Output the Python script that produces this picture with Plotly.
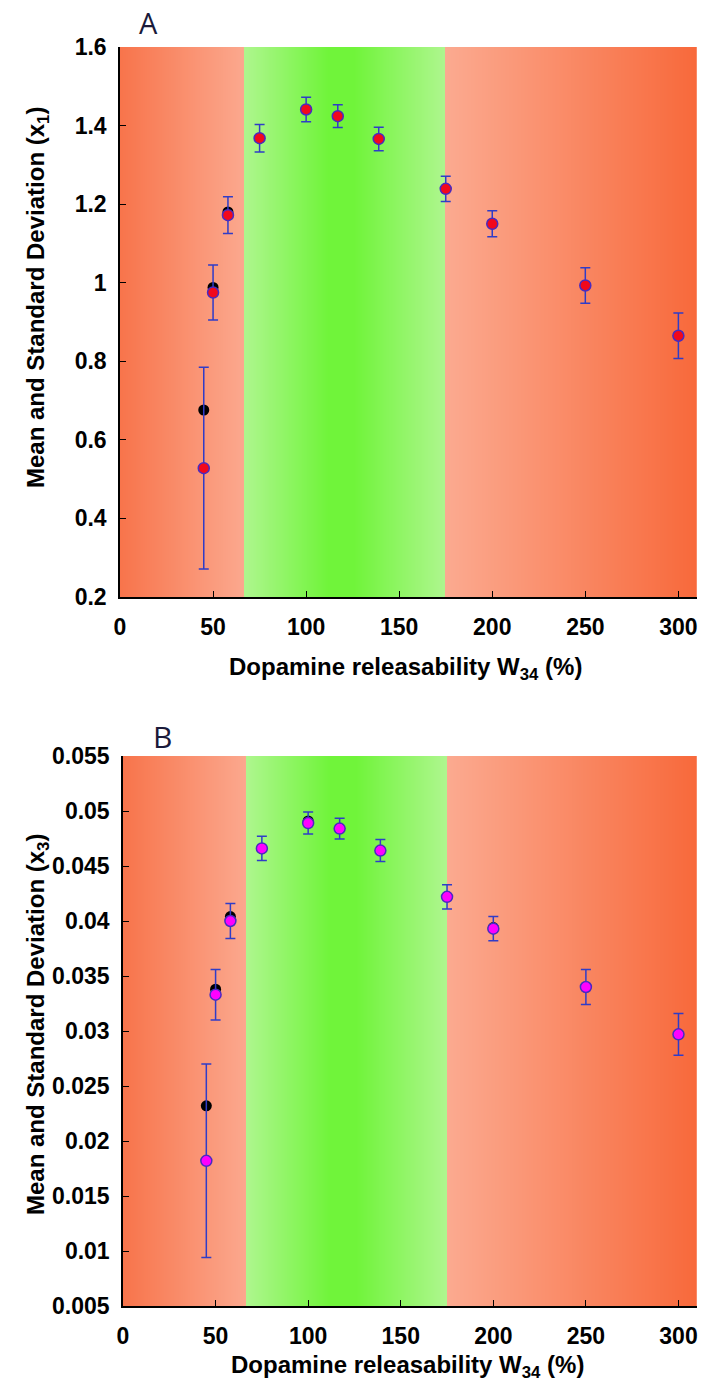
import numpy as np
import plotly.graph_objects as go

# releasability W34 (%)
w34 = [45, 50, 58, 75, 100, 117, 139, 175, 200, 250, 300]

# panel A: x1
x1_mean = [0.528, 0.975, 1.172, 1.368, 1.441, 1.424, 1.366, 1.239, 1.150, 0.993, 0.865]
x1_sd = [0.257, 0.070, 0.047, 0.035, 0.031, 0.029, 0.030, 0.032, 0.033, 0.045, 0.058]
x1_det = [0.676, 0.988, 1.180, 1.368, 1.441, 1.424, 1.366, 1.239, 1.150, 0.993, 0.865]

# panel B: x3
x3_mean = [0.0182, 0.0333, 0.0400, 0.0466, 0.0489, 0.0484, 0.0464, 0.0422, 0.0393, 0.0340, 0.0297]
x3_sd = [0.0088, 0.0023, 0.0016, 0.0011, 0.0010, 0.00095, 0.0010, 0.0011, 0.0011, 0.0016, 0.0019]
x3_det = [0.0232, 0.0338, 0.0404, 0.0466, 0.0491, 0.0484, 0.0464, 0.0422, 0.0394, 0.0340, 0.0297]

x_ticks = [0, 50, 100, 150, 200, 250, 300]
ya_ticks = [0.2, 0.4, 0.6, 0.8, 1, 1.2, 1.4, 1.6]
yb_ticks = [0.005, 0.01, 0.015, 0.02, 0.025, 0.03, 0.035, 0.04, 0.045, 0.05, 0.055]
yb_text = ['0.005', '0.01', '0.015', '0.02', '0.025', '0.03', '0.035', '0.04', '0.045', '0.05', '0.055']

XMAX = 310
G0, G1 = 66.7, 175  # green band edges

# background colour bands (position in x units -> colour)
bg_scale = [
    [0.0, '#F8744B'],
    [G0 / XMAX - 0.0005, '#FBA88E'],
    [G0 / XMAX, '#AEF68E'],
    [112 / XMAX, '#70F43A'],
    [126 / XMAX, '#70F43A'],
    [G1 / XMAX - 0.0005, '#AEF68E'],
    [G1 / XMAX, '#FBAA90'],
    [1.0, '#F8693B'],
]

FONT = 'Liberation Sans'
AXFONT = dict(family=FONT, size=23, color='black')
ERRCOL = '#2F3CC8'
EDGE = '#4A2BC0'

fig = go.Figure()

bx = np.linspace(0, XMAX, 1241)


def add_panel(xa, ya, ylo, yhi, mean, sd, det, fill):
    fig.add_trace(go.Heatmap(
        x=bx, y=[ylo, yhi], z=[bx, bx], zmin=0, zmax=XMAX,
        colorscale=bg_scale, showscale=False, hoverinfo='skip',
        xaxis=xa, yaxis=ya,
    ))
    fig.add_trace(go.Scatter(
        x=w34, y=det, mode='markers',
        marker=dict(size=11, color='black'),
        showlegend=False, xaxis=xa, yaxis=ya,
    ))
    fig.add_trace(go.Scatter(
        x=w34, y=mean, mode='markers',
        marker=dict(size=11, color=fill, line=dict(color=EDGE, width=1.5)),
        error_y=dict(type='data', array=sd, color=ERRCOL, thickness=1.5, width=5),
        showlegend=False, xaxis=xa, yaxis=ya,
    ))


add_panel('x', 'y', 0.2, 1.6, x1_mean, x1_sd, x1_det, '#F2081C')
add_panel('x2', 'y2', 0.005, 0.055, x3_mean, x3_sd, x3_det, '#FF00FF')

# page body adds an 8px offset, so work in page pixels and subtract it
OFF = 8
W = 706 - OFF
H = 1389 - 2 * OFF


def px(x):
    return (x - OFF) / W


def py(y):
    return 1 - (y - OFF) / H


xcommon = dict(
    range=[0, XMAX], tickvals=x_ticks, ticktext=['<b>%d</b>' % v for v in x_ticks],
    ticks='inside', ticklen=6, tickcolor='black', ticklabelstandoff=9,
    showline=True, linecolor='black', linewidth=1.5, showgrid=False, zeroline=False,
    tickfont=AXFONT, automargin=False,
)
ycommon = dict(
    ticks='inside', ticklen=6, tickcolor='black', ticklabelstandoff=7,
    showline=True, linecolor='black', linewidth=1.5, showgrid=False, zeroline=False,
    tickfont=AXFONT, automargin=False,
)


def label(text, x, y, size, angle=0, family=FONT, color='black'):
    return dict(text=text, x=px(x), y=py(y), xref='paper', yref='paper',
                xanchor='center', yanchor='middle', textangle=angle,
                showarrow=False, font=dict(family=family, size=size, color=color))


xtitle = '<b>Dopamine releasability W<sub>34</sub> (%)</b>'
fig.update_layout(
    width=W, height=H,
    margin=dict(l=0, r=0, t=0, b=0),
    paper_bgcolor='white', plot_bgcolor='white',
    xaxis=dict(xcommon, domain=[px(120), px(697)], anchor='y'),
    yaxis=dict(ycommon, domain=[py(597), py(47)], anchor='x',
               range=[0.2, 1.6], tickvals=ya_ticks,
               ticktext=['<b>%g</b>' % v for v in ya_ticks]),
    xaxis2=dict(xcommon, domain=[px(123), px(697)], anchor='y2'),
    yaxis2=dict(ycommon, domain=[py(1306), py(756)], anchor='x2',
                range=[0.005, 0.055], tickvals=yb_ticks,
                ticktext=['<b>%s</b>' % t for t in yb_text]),
    annotations=[
        label('A', 148, 23, 29, family='Open Sans', color='#1a1a3a'),
        label('B', 162, 736, 30, family='Open Sans', color='#1a1a3a'),
        label(xtitle, 405, 668, 24),
        label(xtitle, 407, 1366, 24),
        label('<b>Mean and Standard Deviation (x<sub>1</sub>)</b>', 37, 298, 24, angle=-90),
        label('<b>Mean and Standard Deviation (x<sub>3</sub>)</b>', 37, 1025, 24, angle=-90),
    ],
)

fig.write_html("out.html")
